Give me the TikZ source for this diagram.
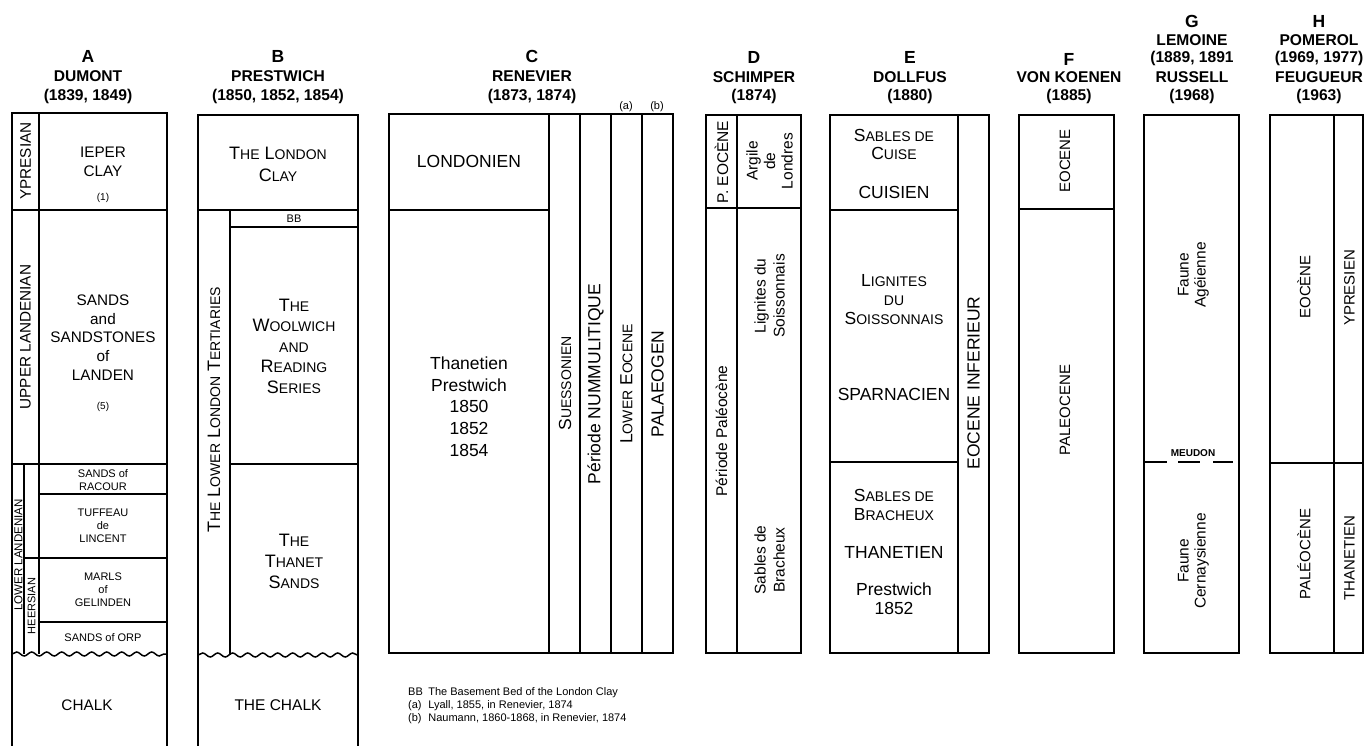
\documentclass[tikz,border=0pt]{standalone}
\usepackage{fontspec}
\setmainfont{Liberation Sans}
\usetikzlibrary{decorations.pathmorphing}
\newcommand\sk[1]{{\fontsize{14}{14}\selectfont #1}}
\tikzset{
  box/.style={line width=1.5pt},
  tA/.style={font=\fontsize{15.3}{18.8}\selectfont, align=center, inner sep=0pt},
  tAs/.style={font=\fontsize{11}{13}\selectfont, align=center, inner sep=0pt},
  tC/.style={font=\fontsize{17.5}{21.75}\selectfont, align=center, inner sep=0pt},
  tD/.style={font=\fontsize{15.5}{17.5}\selectfont, align=center, inner sep=0pt},
  tSC/.style={font=\fontsize{18}{20.5}\selectfont, align=center, inner sep=0pt},
  tSCe/.style={font=\fontsize{17.5}{18.8}\selectfont, align=center, inner sep=0pt},
  tNote/.style={font=\fontsize{11}{13}\selectfont, inner sep=0pt},
  hdL/.style={font=\bfseries\fontsize{17.5}{17.5}\selectfont, inner sep=0pt},
  hdN/.style={font=\bfseries\fontsize{15.6}{15.6}\selectfont, inner sep=0pt},
  wavy/.style={decorate, decoration={snake, segment length=15pt, amplitude=2pt}}
}
\begin{document}
\begin{tikzpicture}[x=1pt,y=-1pt]
\useasboundingbox (0,0) rectangle (1365,746);

% ---------- headers ----------
\node[hdL] (hA1) at (88,56.5) {A};
\node[hdN] (hA2) at (88,76) {DUMONT};
\node[hdN] (hA3) at (88,96) {(1839, 1849)};
\node[hdL] (hB1) at (278,56.5) {B};
\node[hdN] (hB2) at (278,76) {PRESTWICH};
\node[hdN] (hB3) at (278,96) {(1850, 1852, 1854)};
\node[hdL] (hC1) at (532,56.5) {C};
\node[hdN] (hC2) at (532,76) {RENEVIER};
\node[hdN] (hC3) at (532,96) {(1873, 1874)};
\node[hdL] (hD1) at (754,57) {D};
\node[hdN] (hD2) at (754,77) {SCHIMPER};
\node[hdN] (hD3) at (754,96.5) {(1874)};
\node[hdL] (hE1) at (910,57) {E};
\node[hdN] (hE2) at (910,77) {DOLLFUS};
\node[hdN] (hE3) at (910,96.5) {(1880)};
\node[hdL] (hF1) at (1069,59.5) {F};
\node[hdN] (hF2) at (1069,77.5) {VON KOENEN};
\node[hdN] (hF3) at (1069,96.5) {(1885)};
\node[hdL] (hG1) at (1192,21) {G};
\node[hdN] (hG2) at (1192,40) {LEMOINE};
\node[hdN] (hG3) at (1192,58) {(1889, 1891};
\node[hdN] (hG4) at (1192,77.5) {RUSSELL};
\node[hdN] (hG5) at (1192,96.5) {(1968)};
\node[hdL] (hH1) at (1319,21) {H};
\node[hdN] (hH2) at (1319,40) {POMEROL};
\node[hdN] (hH3) at (1319,58) {(1969, 1977)};
\node[hdN] (hH4) at (1319,77.5) {FEUGUEUR};
\node[hdN] (hH5) at (1319,96.5) {(1963)};

% ---------- A ----------
\draw[box] (12,746) -- (12,113) -- (167,113) -- (167,746);
\draw[box] (39,113) -- (39,654);
\draw[box] (12,210) -- (167,210);
\draw[box] (12,464) -- (167,464);
\draw[box] (24,464) -- (24,654);
\draw[box] (39,494) -- (167,494);
\draw[box] (24,558) -- (167,558);
\draw[box] (39,622) -- (167,622);
\draw[box,wavy] (12,654) -- (167,654);
\node[tA,rotate=90] (aY) at (25.5,161) {YPRESIAN};
\node[tA] (aIC) at (103,161.5) {IEPER\\CLAY};
\node[tNote,font=\fontsize{10}{12}\selectfont] (a1) at (103,198) {(1)};
\node[tA,rotate=90] (aUL) at (25.5,337) {UPPER LANDENIAN};
\node[tA] (aSL) at (103,337.5) {SANDS\\and\\SANDSTONES\\of\\LANDEN};
\node[tNote,font=\fontsize{10}{12}\selectfont] (a5) at (103,407) {(5)};
\node[tAs] (aRac) at (103,480) {SANDS of\\RACOUR};
\node[tAs] (aTuf) at (103,526) {TUFFEAU\\de\\LINCENT};
\node[tAs] (aMar) at (103,590) {MARLS\\of\\GELINDEN};
\node[tAs] (aOrp) at (103,638) {SANDS of ORP};
\node[tA] (aCh) at (87,705) {CHALK};
\node[tAs,font=\fontsize{11.5}{13}\selectfont,rotate=90] (aLL) at (18.5,555) {LOWER LANDENIAN};
\node[tAs,rotate=90] (aHe) at (31.5,606) {HEERSIAN};

% ---------- B ----------
\draw[box] (198,746) -- (198,115) -- (358,115) -- (358,746);
\draw[box] (198,210) -- (358,210);
\draw[box] (230,210) -- (230,655);
\draw[box] (230,227) -- (358,227);
\draw[box] (230,464) -- (358,464);
\draw[box,wavy] (198,655) -- (358,655);
\node[tSC,font=\fontsize{18}{22}\selectfont] (bLC) at (278,164) {T\sk{HE} L\sk{ONDON}\\C\sk{LAY}};
\node[tAs] (bBB) at (294,219) {BB};
\node[tSC] (bWR) at (294,346) {T\sk{HE}\\W\sk{OOLWICH}\\\sk{AND}\\R\sk{EADING}\\S\sk{ERIES}};
\node[tSC,font=\fontsize{18}{21}\selectfont] (bTS) at (294,561) {T\sk{HE}\\T\sk{HANET}\\S\sk{ANDS}};
\node[tSC,rotate=90] (bLLT) at (214,410) {T\sk{HE} L\sk{OWER} L\sk{ONDON} T\sk{ERTIARIES}};
\node[tA,font=\fontsize{15.5}{18}\selectfont] (bCh) at (278,705) {THE CHALK};

% ---------- C ----------
\draw[box] (389,114) rectangle (673,653);
\draw[box] (549,114) -- (549,653);
\draw[box] (389,210) -- (549,210);
\draw[box] (580,114) -- (580,653);
\draw[box] (611,114) -- (611,653);
\draw[box] (642,114) -- (642,653);
\node[tC] (cLon) at (469,161) {LONDONIEN};
\node[tC] (cTh) at (469,406.5) {Thanetien\\Prestwich\\1850\\1852\\1854};
\node[tC,rotate=90] (cSu) at (565,383.5) {S\sk{UESSONIEN}};
\node[tC,rotate=90] (cPN) at (595.5,384) {Période NUMMULITIQUE};
\node[tC,rotate=90] (cLE) at (626.5,384) {L\sk{OWER} E\sk{OCENE}};
\node[tC,rotate=90] (cPa) at (657.5,384) {PALAEOGEN};
\node[tNote] (ca) at (626,107) {(a)};
\node[tNote] (cb) at (657,107) {(b)};
\node[tNote,anchor=north west] (notes) at (408,686) {%
  \begin{tabular}{@{}l@{\hspace{5.5pt}}l@{}}
  BB & The Basement Bed of the London Clay\\
  (a) & Lyall, 1855, in Renevier, 1874\\
  (b) & Naumann, 1860-1868, in Renevier, 1874
  \end{tabular}};

% ---------- D ----------
\draw[box] (706,115) rectangle (801,653);
\draw[box] (737,115) -- (737,653);
\draw[box] (706,208) -- (801,208);
\node[tD,rotate=90] (dPE) at (721.5,162) {P. EOCÈNE};
\node[tD,rotate=90] (dAr) at (769.5,161) {Argile\\de\\Londres};
\node[tD,rotate=90] (dPP) at (721.5,431) {Période Paléocène};
\node[tD,font=\fontsize{15.5}{19}\selectfont,rotate=90] (dLS) at (769.5,296) {Lignites du\\Soissonnais};
\node[tD,font=\fontsize{15.5}{19}\selectfont,rotate=90] (dSB) at (769.5,560) {Sables de\\Bracheux};

% ---------- E ----------
\draw[box] (830,115) rectangle (989,653);
\draw[box] (958,115) -- (958,653);
\draw[box] (830,210) -- (958,210);
\draw[box] (830,462) -- (958,462);
\node[tSCe] (eSC) at (894,144.5) {S\sk{ABLES DE}\\C\sk{UISE}};
\node[tC] (eCu) at (894,192) {CUISIEN};
\node[tSCe] (eLS) at (894,299.5) {L\sk{IGNITES}\\\sk{DU}\\S\sk{OISSONNAIS}};
\node[tC] (eSp) at (894,394) {SPARNACIEN};
\node[tSCe] (eSB) at (894,505) {S\sk{ABLES DE}\\B\sk{RACHEUX}};
\node[tC] (eTh) at (894,552) {THANETIEN};
\node[tC,font=\fontsize{17.5}{19}\selectfont] (ePr) at (894,598.5) {Prestwich\\1852};
\node[tC,rotate=90] (eEI) at (973.5,383) {EOCENE INFERIEUR};

% ---------- F ----------
\draw[box] (1019,115) rectangle (1114,653);
\draw[box] (1019,209) -- (1114,209);
\node[tD,font=\fontsize{15}{17}\selectfont,rotate=90] (fE) at (1065,161) {EOCENE};
\node[tD,font=\fontsize{15}{17}\selectfont,rotate=90] (fP) at (1065,410) {PALEOCENE};

% ---------- G ----------
\draw[box] (1144,115) rectangle (1239,653);
\coordinate (g1) at (1144,462);
\coordinate (g2) at (1167,462);
\coordinate (g3) at (1178,462);
\coordinate (g4) at (1200,462);
\coordinate (g5) at (1213,462);
\coordinate (g6) at (1233,462);
\draw[box] (g1) -- (g2) (g3) -- (g4) (g5) -- (g6);
\node[tNote,font=\bfseries\fontsize{10}{12}\selectfont] (gMe) at (1193,453) {MEUDON};
\node[tD,font=\fontsize{15.5}{17}\selectfont,rotate=90] (gFA) at (1193.5,275) {Faune\\Agéienne};
\node[tD,font=\fontsize{15.5}{17}\selectfont,rotate=90] (gFC) at (1193.5,561) {Faune\\Cernaysienne};

% ---------- H ----------
\draw[box] (1270,115) rectangle (1363,653);
\draw[box] (1334,115) -- (1334,653);
\draw[box] (1270,463) -- (1363,463);
\node[tD,font=\fontsize{15}{17}\selectfont,rotate=90] (hE) at (1304,287) {EOCÈNE};
\node[tD,font=\fontsize{15}{17}\selectfont,rotate=90] (hY) at (1349.5,288) {YPRESIEN};
\node[tD,font=\fontsize{15}{17}\selectfont,rotate=90] (hP) at (1304,554) {PALÉOCÈNE};
\node[tD,font=\fontsize{15}{17}\selectfont,rotate=90] (hT) at (1349.5,558) {THANETIEN};
\end{tikzpicture}
\end{document}
